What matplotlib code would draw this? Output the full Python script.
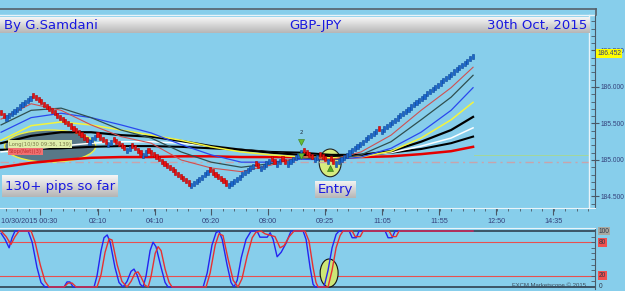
import numpy as np
import matplotlib.pyplot as plt
import matplotlib.ticker as ticker
from matplotlib.patches import Ellipse
from matplotlib.lines import Line2D
from matplotlib.colors import LinearSegmentedColormap

##################################################################
# 1. Data
##################################################################

start_price = 185.64
box_size = 0.03
# renko runs: +n = n up (blue) bricks, -n = n down (red) bricks
brick_runs = [-2, 10, -21, 3, -4, 2, -5, 2, -4, 2, -16, 7, -7, 10, -2, 4,
              -2, 2, -2, 6, -4, 2, -3, 1, -2, 16, -1, 35]

# moving averages, sampled at brick index ma_x
ma_x = [0, 11.2, 22.4, 33.6, 44.8, 56, 67.2, 78.4, 89.6, 100.7, 111.9,
        123.1, 134.3, 145.5, 156.7, 167.9, 176.1]
ma_red_thin = [185.56, 185.77, 185.68, 185.48, 185.32, 185.23, 185.00, 184.89, 184.84,
               184.93, 185.05, 185.00, 185.11, 185.34, 185.68, 185.99, 186.27]
ma_slate = [185.48, 185.68, 185.71, 185.58, 185.41, 185.30, 185.11, 184.97, 184.90,
            184.95, 185.03, 185.00, 185.07, 185.25, 185.55, 185.86, 186.16]
ma_blue = [185.38, 185.58, 185.64, 185.58, 185.48, 185.37, 185.21, 185.07, 184.97,
           184.97, 185.01, 185.00, 185.04, 185.16, 185.38, 185.68, 185.99]
ma_yellow = [185.27, 185.47, 185.52, 185.48, 185.41, 185.34, 185.27, 185.18, 185.11,
             185.07, 185.04, 185.03, 185.04, 185.12, 185.30, 185.55, 185.79]
ma_black1 = [185.23, 185.33, 185.38, 185.38, 185.34, 185.32, 185.26, 185.19, 185.14,
             185.10, 185.07, 185.05, 185.07, 185.12, 185.25, 185.41, 185.59]
ma_white = [185.11, 185.15, 185.19, 185.23, 185.25, 185.25, 185.23, 185.19, 185.14,
            185.10, 185.07, 185.05, 185.07, 185.10, 185.19, 185.30, 185.44]
ma_black2 = [185.14, 185.15, 185.16, 185.18, 185.19, 185.19, 185.18, 185.16, 185.14,
             185.11, 185.10, 185.07, 185.07, 185.10, 185.15, 185.23, 185.32]
ma_red_thick = [184.90, 184.96, 185.00, 185.03, 185.04, 185.04, 185.05, 185.05, 185.04,
                185.04, 185.04, 185.03, 185.04, 185.05, 185.08, 185.12, 185.18]

entry_level = 184.966
last_price = 186.452

# stochastic oscillator (%K blue, %D red)
stoch_k_x = [0, 1.5, 3.0, 4.1, 5.2, 10.1, 11.6, 13.4, 14.9, 16.4, 23.5, 24.6, 25.7, 26.9,
             34.7, 35.8, 37.3, 38.4, 39.6, 40.7, 42.5, 44.0, 45.5, 47.0, 48.5, 49.6, 50.7,
             51.9, 53.0, 54.1, 55.6, 56.7, 57.8, 59.7, 61.2, 62.3, 75.4, 76.9, 78.7, 80.2,
             81.3, 82.5, 84.3, 85.8, 86.9, 88.1, 89.6, 91.4, 93.3, 95.5, 96.6, 99.3, 100.4,
             101.5, 103.0, 104.5, 106.3, 108.2, 112.7, 113.8, 115.3, 116.4, 117.2, 120.5,
             122.0, 123.5, 125.0, 126.1, 129.9, 131.0, 132.5, 133.6, 143.3, 144.4, 145.9,
             147.0, 176.1]
stoch_k = [96, 85, 70, 88, 100, 100, 80, 35, 8, 0, 0, 9, 9, 0,
           0, 20, 65, 88, 93, 80, 35, 8, 0, 10, 28, 32, 22,
           5, 0, 20, 65, 80, 72, 35, 8, 0, 0, 25, 75, 97,
           100, 85, 40, 8, 0, 12, 52, 85, 100, 100, 89, 89, 97,
           85, 54, 62, 78, 100, 100, 85, 35, 5, 0, 0,
           30, 70, 94, 100, 100, 88, 88, 100, 100, 88, 88,
           100, 100]
stoch_d_x = [0, 1.9, 3.7, 5.2, 6.7, 11.2, 12.7, 14.6, 16.4, 17.9, 23.5, 25.0, 26.5, 28.0,
             35.8, 37.3, 38.8, 40.3, 41.4, 43.3, 45.1, 47.0, 48.5, 50.0, 51.1, 52.2, 53.7,
             54.9, 56.0, 57.5, 58.6, 59.7, 61.2, 62.7, 63.8, 76.5, 78.0, 79.9, 81.3, 82.8,
             84.7, 86.6, 88.4, 89.9, 91.8, 93.7, 95.1, 97.0, 98.5, 100.7, 102.2, 104.1,
             105.6, 107.5, 109.3, 113.4, 114.9, 116.4, 117.5, 118.3, 122.0, 123.5, 125.0,
             126.5, 127.6, 131.0, 132.1, 134.0, 135.1, 144.8, 145.9, 147.4, 148.5, 176.1]
stoch_d = [100, 90, 76, 90, 100, 100, 80, 40, 10, 0, 0, 7, 7, 0,
           0, 22, 62, 86, 84, 40, 10, 0, 10, 25, 27, 18, 3,
           0, 20, 60, 72, 65, 32, 8, 0, 0, 25, 75, 95, 92,
           50, 12, 0, 15, 55, 88, 98, 100, 95, 92, 90, 70,
           74, 90, 100, 100, 82, 35, 8, 0, 0, 30, 70,
           92, 100, 100, 90, 90, 100, 100, 90, 90, 100, 100]

xtick_pos = [14.55, 36.2, 57.5, 78.4, 99.6, 120.9, 142.2, 163.4, 184.7, 206.0]
xtick_labels = ['10/30/2015 00:30', '02:10', '04:10', '06:20', '08:00', '09:25',
                '11:05', '11:55', '12:50', '14:35']

##################################################################
# 2. Layout helpers (pixel -> figure fraction)
##################################################################

W, H = 625, 291
SKY = '#87CEEB'
AXC = '#4a5866'
LBL = '#34407a'
SMALL = 'Liberation Sans'


def fx(px):
    return px / W


def fy(py):
    return 1 - py / H


fig = plt.figure(figsize=(W / 100, H / 100), dpi=100, facecolor=SKY)
grey = LinearSegmentedColormap.from_list('grey', ['#F6F6F6', '#B6B6B6'])


def grad_box(x0, y0, x1, y1):
    bax = fig.add_axes([fx(x0), fy(y1), (x1 - x0) / W, (y1 - y0) / H], zorder=5)
    bax.imshow(np.linspace(0, 1, 40)[:, None], aspect='auto', cmap=grey,
               extent=[0, 1, 0, 1])
    bax.set_axis_off()
    return bax

##################################################################
# 3. Price panel
##################################################################

ax = fig.add_axes([0, fy(208), 595 / W, (208 - 15) / H], facecolor=SKY)
ax.set_xlim(-0.4, 221.6)
ax.set_ylim(184.342, 186.986)

dirs = np.concatenate([np.full(abs(r), np.sign(r)) for r in brick_runs])
closes = start_price + box_size * np.cumsum(dirs)
idx = np.arange(len(closes))
up = dirs > 0
brick_h = 0.07

# trade bubble and entry ellipse
ax.add_patch(Ellipse((18.3, 185.19), 34, 0.44, facecolor='#587888', edgecolor='#f0f040',
                     lw=1.0, zorder=1.5))
ax.add_patch(Ellipse((122.8, 184.96), 8.2, 0.38, facecolor='#d6ec7e', edgecolor='#222222',
                     lw=0.8, zorder=1.6))

ax.axhline(entry_level, color='#c8a4ac', lw=1.0, ls=(0, (6, 3, 1.5, 3)), zorder=1.7)
ax.plot([176.5, 219], [185.07, 185.07], color='#a8d890', lw=0.6, zorder=1.7)

ax.plot(ma_x, ma_red_thick, color='#e60000', lw=1.8, zorder=2)
ax.plot(ma_x, ma_black2, color='#000000', lw=1.5, zorder=2)
ax.plot(ma_x, ma_white, color='#ffffff', lw=1.1, zorder=2)
ax.plot(ma_x, ma_black1, color='#000000', lw=1.6, zorder=2)
ax.plot(ma_x, ma_yellow, color='#f4f43c', lw=1.1, zorder=2)
ax.plot(ma_x, ma_blue, color='#2a48ee', lw=0.9, zorder=2)
ax.plot(ma_x, ma_slate, color='#2f4f4f', lw=0.9, zorder=2)
ax.plot(ma_x, ma_red_thin, color='#d05050', lw=0.8, zorder=2)

ax.bar(idx[up], brick_h, bottom=closes[up] - brick_h, width=0.8,
       color='#1a66cc', edgecolor='#0b469a', lw=0.4, zorder=3)
ax.bar(idx[~up], brick_h, bottom=closes[~up], width=0.8,
       color='#e81010', edgecolor='#b00000', lw=0.4, zorder=3)

# signal markers
ax.plot(112, 185.25, marker='v', ms=5, color='#66bb33', mec='#3d7a1a', mew=0.4, zorder=4)
ax.plot(112, 185.05, marker='v', ms=4, color='#66bb33', mec='#3d7a1a', mew=0.4, zorder=4)
ax.plot(122.8, 184.89, marker='^', ms=5, color='#55aa22', mec='#2d6a10', mew=0.4, zorder=4)
ax.text(112, 185.37, '2', fontsize=4, color='#203040', ha='center', va='center', zorder=4)

ax.text(3, 185.215, 'Long(10/30 09:36, 139)', fontsize=3.8, color='#7a7a4a',
        va='center', zorder=4,
        bbox=dict(boxstyle='square,pad=0.25', fc='#dfeeaa', ec='none'))
ax.text(3, 185.115, 'Stop(Net)(3)', fontsize=3.8, color='#c03030', va='center', zorder=4,
        bbox=dict(boxstyle='square,pad=0.25', fc='#f07070', ec='none'))

# axes styling
for s in ('left', 'top'):
    ax.spines[s].set_visible(False)
ax.spines['bottom'].set_color('#e8f4fa')
ax.spines['right'].set_color(AXC)
ax.plot([589 / 595] * 2, [0, 1], transform=ax.transAxes, color='#e8f4fa', lw=1, clip_on=False)
ax.plot([0, 1], [1, 1], transform=ax.transAxes, color='#e8f4fa', lw=1, clip_on=False)

ax.yaxis.tick_right()
ax.yaxis.set_major_locator(ticker.MultipleLocator(0.5))
ax.yaxis.set_minor_locator(ticker.MultipleLocator(0.1))
ax.yaxis.set_major_formatter(ticker.FormatStrFormatter('%.3f'))
ax.tick_params(axis='y', which='major', direction='inout', length=6, width=0.8,
               color=AXC, labelsize=4.8, labelcolor=LBL, pad=1)
ax.tick_params(axis='y', which='minor', direction='in', length=3, width=0.6, color=AXC)
for lab in ax.get_yticklabels():
    lab.set_family(SMALL)
ax.text(1.004, last_price, '186.452', transform=ax.get_yaxis_transform(), fontsize=4.8,
        family=SMALL, color=LBL, va='center', ha='left', zorder=6, clip_on=False,
        bbox=dict(boxstyle='square,pad=0.15', fc='#ffff00', ec='none'))

ax.set_xticks(xtick_pos)
ax.xaxis.set_minor_locator(ticker.FixedLocator(np.arange(xtick_pos[0] - 4 * 4.26, 221, 4.26)))
ax.tick_params(axis='x', which='major', direction='out', length=5, width=0.8,
               color=AXC, labelbottom=False)
ax.tick_params(axis='x', which='minor', direction='out', length=2.5, width=0.6, color=AXC)
for i, (p, lab) in enumerate(zip(xtick_pos, xtick_labels)):
    ax.text(-0.2 if i == 0 else p, -0.072, lab, transform=ax.get_xaxis_transform(),
            ha='left' if i == 0 else 'center', va='center', fontsize=5.2, family=SMALL,
            color=LBL)

##################################################################
# 4. Stochastic panel
##################################################################

ax2 = fig.add_axes([0, fy(289), 595 / W, (289 - 228) / H], facecolor=SKY, sharex=ax)
ax2.set_ylim(-3.6, 105.4)
ax2.axhline(100, color='#2f4050', lw=1.2, zorder=1)
ax2.axhline(0, color='#2f4050', lw=1.2, zorder=1)
ax2.axhline(80, color='#e85050', lw=0.8, zorder=1)
ax2.axhline(20, color='#e85050', lw=0.8, zorder=1)
ax2.add_patch(Ellipse((122.4, 25), 6.7, 50, facecolor='#cce676', edgecolor='#111111',
                      lw=0.8, zorder=1.5))
ax2.plot(stoch_k_x, stoch_k, color='#2424f0', lw=1.0, zorder=2)
ax2.plot(stoch_d_x, stoch_d, color='#e83030', lw=1.0, zorder=2)

for s in ('left', 'bottom'):
    ax2.spines[s].set_visible(False)
ax2.spines['top'].set_color('#e8f4fa')
ax2.spines['right'].set_color(AXC)
ax2.yaxis.tick_right()
ax2.set_yticks([0, 20, 80, 100])
ax2.yaxis.set_minor_locator(ticker.MultipleLocator(10))
ax2.tick_params(axis='y', which='both', direction='in', length=3, width=0.6,
                color=AXC, labelright=False)
ax2.tick_params(axis='x', which='both', length=0, labelbottom=False)
for v, bg in ((100, '#a8a8a0'), (80, '#f05050'), (20, '#f05050'), (0, None)):
    bb = dict(boxstyle='square,pad=0.12', fc=bg, ec='none') if bg else None
    ax2.text(1.006, v, str(v), transform=ax2.get_yaxis_transform(), fontsize=4.8,
             family=SMALL, color='#303848', va='center', ha='left', clip_on=False, bbox=bb)
ax2.text(0.985, 0.02, 'FXCM Marketscope \u00a9 2015', transform=ax2.transAxes,
         fontsize=4.3, family=SMALL, color='#3a4a5a', ha='right', va='bottom')

##################################################################
# 5. Frame, title band and captions
##################################################################

fig.add_artist(Line2D([0, fx(596)], [fy(9), fy(9)], color='#55606a', lw=1.2))
fig.add_artist(Line2D([fx(596), fx(596)], [fy(9), fy(15)], color='#55606a', lw=1.2))

band = grad_box(0, 17, 590, 33)
band.text(0.006, 0.5, 'By G.Samdani', color='#1818e0', fontsize=9.5, ha='left', va='center')
band.text(0.534, 0.5, 'GBP-JPY', color='#1818e0', fontsize=9.5, ha='center', va='center')
band.text(0.995, 0.5, '30th Oct, 2015', color='#1818e0', fontsize=9.5, ha='right', va='center')

pips = grad_box(2, 175, 118, 197)
pips.text(0.5, 0.48, '130+ pips so far', color='#1818e0', fontsize=9.5, ha='center', va='center')
entry = grad_box(315, 181, 355, 198)
entry.text(0.5, 0.48, 'Entry', color='#1818e0', fontsize=9.5, ha='center', va='center')

fig.savefig('out.png', dpi=100, facecolor=SKY)
